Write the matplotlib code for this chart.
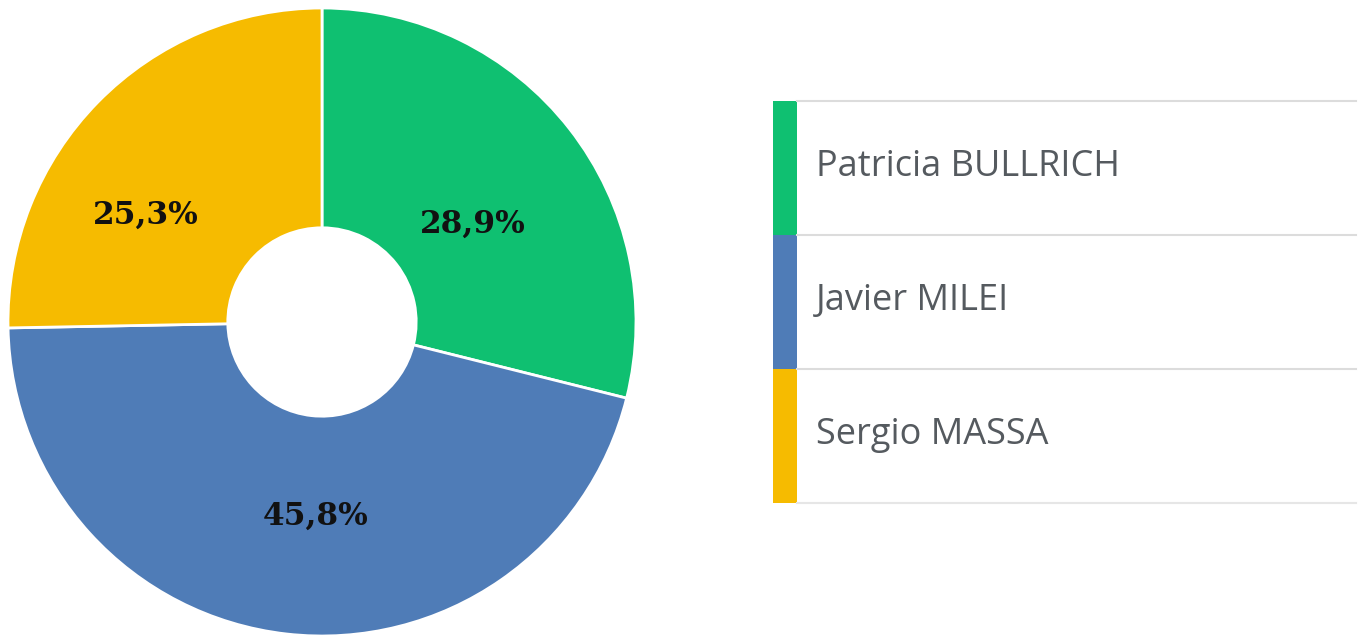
import matplotlib
matplotlib.use("Agg")
import matplotlib.pyplot as plt
from matplotlib.patches import Rectangle

candidates = ["Patricia BULLRICH", "Javier MILEI", "Sergio MASSA"]
shares = [28.9, 45.8, 25.3]
labels = ["28,9%", "45,8%", "25,3%"]
colors = ["#0fc071", "#4f7cb7", "#f6bb00"]

W, H = 1359, 638
fig = plt.figure(figsize=(W / 100, H / 100), dpi=100)

# donut
ax = fig.add_axes([8 / W, 2 / H, 628 / W, 628 / H])
wedges, _ = ax.pie(shares, colors=colors, startangle=90, counterclock=False,
                   radius=1.0, wedgeprops=dict(width=0.70, edgecolor="white", linewidth=2))
ax.set_xlim(-1, 1)
ax.set_ylim(-1, 1)
ax.set_aspect("equal")
ax.axis("off")

label_pos = [(0.48, 0.31), (-0.02, -0.62), (-0.56, 0.34)]
for (x, y), t in zip(label_pos, labels):
    ax.text(x, y, t, ha="center", va="center", fontsize=22.5, fontweight="bold",
            family="DejaVu Serif", color="#111111")

# legend
lax = fig.add_axes([0, 0, 1, 1])
lax.set_xlim(0, W)
lax.set_ylim(H, 0)
lax.axis("off")
row_top = 101
row_h = 134
for i, (name, c) in enumerate(zip(candidates, colors)):
    y0 = row_top + i * row_h
    lax.add_patch(Rectangle((773, y0), 24, row_h, facecolor=c, edgecolor="none"))
    lax.plot([797, 1356], [y0, y0], color="#dcdcdc", lw=1.5)
    lax.text(816, y0 + row_h / 2 - 1, name, ha="left", va="center", fontsize=26,
             family="Open Sans", color="#555a5f")
lax.plot([797, 1356], [row_top + 3 * row_h, row_top + 3 * row_h], color="#e6e6e6", lw=1.5)

fig.savefig("out.png", dpi=100, facecolor="white")
